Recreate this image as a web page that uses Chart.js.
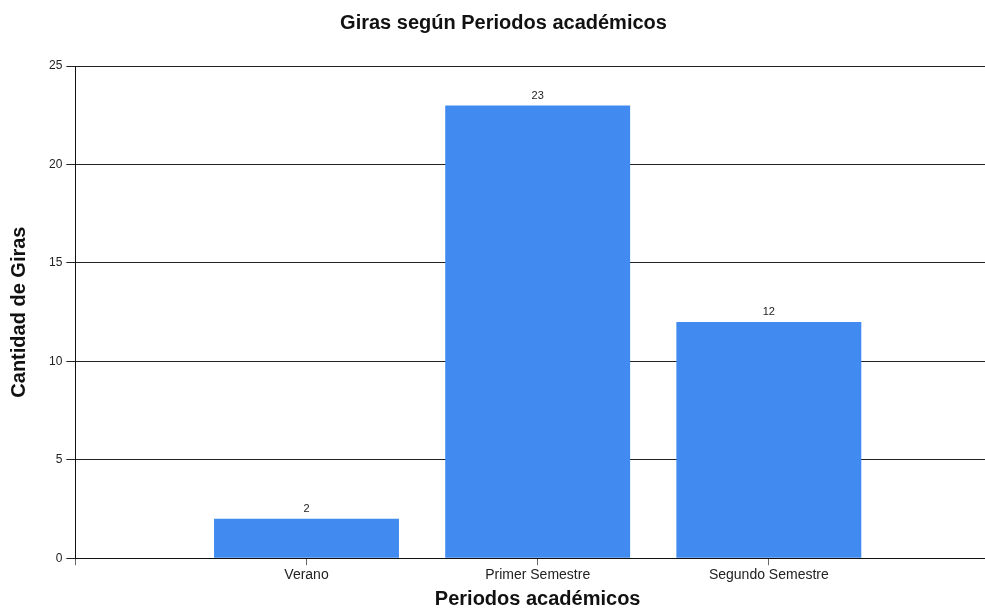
<!DOCTYPE html>
<html>
<head>
<meta charset="utf-8">
<script src="https://cdn.jsdelivr.net/npm/chart.js@4/dist/chart.umd.min.js"></script>
<style>
  html, body { margin: 0; padding: 0; overflow: hidden; background: #fff; }
  #wrap { width: 1006px; height: 611px; }
</style>
</head>
<body>
<div id="wrap"><canvas id="grafico"></canvas></div>
<script>
// datos del grafico
const periodos = ['', 'Verano', 'Primer Semestre', 'Segundo Semestre', ''];
const giras = [null, 2, 23, 12, null];
const marcasY = [0, 5, 10, 15, 20, 25];

const etiquetasBarras = {
    id: 'etiquetasBarras',
    afterDatasetsDraw(chart) {
        const ctx = chart.ctx;
        const meta = chart.getDatasetMeta(0);
        ctx.save();
        ctx.font = '11px "Liberation Sans", Arial, sans-serif';
        ctx.fillStyle = '#222';
        ctx.textAlign = 'center';
        ctx.textBaseline = 'bottom';
        meta.data.forEach((barra, i) => {
            const v = giras[i];
            if (v === null) return;
            ctx.fillText(String(v), barra.x, barra.y - 4);
        });
        ctx.restore();
    }
};

Chart.defaults.font.family = '"Liberation Sans", Arial, sans-serif';
Chart.defaults.color = '#222';

new Chart(document.getElementById('grafico'), {
    type: 'bar',
    data: {
        labels: periodos,
        datasets: [{
            data: giras,
            backgroundColor: '#418bf0',
            barPercentage: 0.8,
            categoryPercentage: 1.0
        }]
    },
    options: {
        responsive: true,
        maintainAspectRatio: false,
        animation: false,
        layout: { padding: { left: 7, right: 6, top: 6, bottom: 0 } },
        plugins: {
            legend: { display: false },
            tooltip: { enabled: false },
            title: {
                display: true,
                text: 'Giras según Periodos académicos',
                font: { size: 20, weight: 'bold' },
                color: '#111',
                padding: { top: 5, bottom: 31 }
            }
        },
        scales: {
            x: {
                offset: false,
                grid: {
                    offset: false,
                    drawOnChartArea: false,
                    color: '#666',
                    tickLength: 7
                },
                border: { color: '#111' },
                ticks: {
                    autoSkip: false,
                    maxRotation: 0,
                    font: { size: 14 },
                    color: '#222',
                    padding: 2
                },
                title: {
                    display: true,
                    text: 'Periodos académicos',
                    font: { size: 20, weight: 'bold' },
                    color: '#111',
                    padding: { top: 1, bottom: 0 }
                }
            },
            y: {
                min: 0,
                max: 25,
                afterBuildTicks(scale) {
                    scale.ticks = marcasY.map(v => ({ value: v }));
                },
                grid: {
                    color: '#222',
                    tickLength: 9
                },
                border: { color: '#111' },
                ticks: {
                    font: { size: 12 },
                    color: '#222',
                    padding: 4
                },
                title: {
                    display: true,
                    text: 'Cantidad de Giras',
                    font: { size: 20, weight: 'bold' },
                    color: '#111',
                    padding: { top: 0, bottom: 14 }
                }
            }
        }
    },
    plugins: [etiquetasBarras]
});
</script>
</body>
</html>
